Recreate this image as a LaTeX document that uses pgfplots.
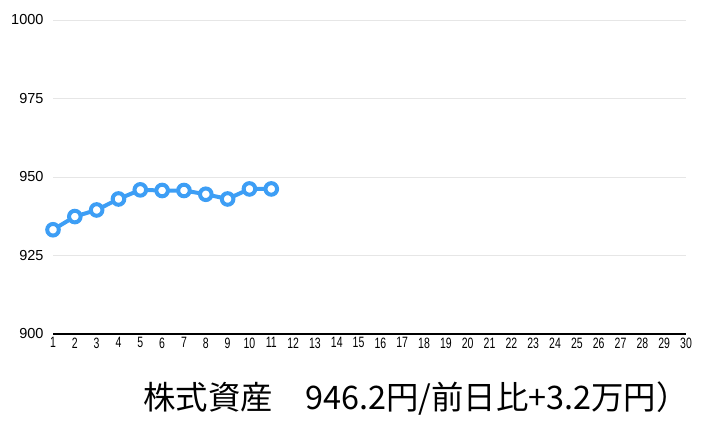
\documentclass[border=0pt]{standalone}
\usepackage{fontspec}
\setmainfont{Liberation Sans}
\newfontfamily\narrowfont[FakeStretch=0.7]{Liberation Sans}
\newfontfamily\cjk{Noto Sans CJK JP}
\usepackage{pgfplots}
\pgfplotsset{compat=1.18}
\definecolor{lineblue}{HTML}{3D9EF5}
\definecolor{gridgray}{HTML}{E6E6E6}
\begin{document}
\begin{tikzpicture}[x=1pt,y=1pt]
\path[use as bounding box] (0,0) rectangle (712,426);
\begin{axis}[
    at={(53pt,92pt)}, anchor=south west,
    scale only axis,
    width=633pt, height=314pt,
    xmin=1, xmax=30, ymin=900, ymax=1000,
    xtick={1,...,30},
    ytick={900,925,950,975,1000},
    axis x line*=bottom,
    axis y line*=left,
    y axis line style={draw=none},
    x axis line style={black, line width=1.2pt, -},
    major tick length=0pt,
    ymajorgrids,
    grid style={gridgray, line width=0.8pt},
    /pgf/number format/assume math mode=true,
    /pgf/number format/1000 sep={},
    xticklabel style={font=\narrowfont\fontsize{15}{15}\selectfont, yshift=0pt},
    yticklabel style={font=\fontsize{14.5}{14.5}\selectfont, xshift=-6pt},
    clip=false,
]
\addplot[lineblue, line width=4pt, mark=*, mark size=5.8pt,
    mark options={fill=white, draw=lineblue, line width=4pt}]
coordinates {
(1,933.2) (2,937.4) (3,939.5) (4,943.0) (5,945.9) (6,945.7)
(7,945.7) (8,944.5) (9,943.0) (10,946.2) (11,946.2)
};
\end{axis}
\node[anchor=base west, inner sep=0pt, font=\cjk\fontsize{32.4}{32.4}\selectfont] at (143,17) {株式資産　946.2円/前日比+3.2万円）};
\end{tikzpicture}
\end{document}
